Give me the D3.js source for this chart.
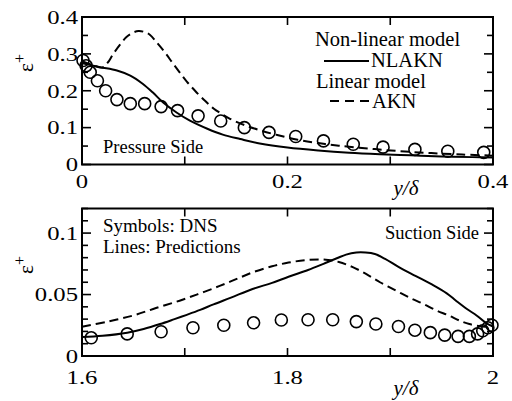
<!DOCTYPE html>
<html>
<head>
<meta charset="utf-8">
<script src="https://cdn.jsdelivr.net/npm/d3@7"></script>
<style>
  html, body { margin: 0; padding: 0; background: #fff; }
  svg text { font-family: "Liberation Serif", "Times New Roman", Times, "DejaVu Serif", serif; }
</style>
</head>
<body>
<div class="chart-container"></div>
<script>
// Pressure side (top panel)
const dnsTop = [[0.001,0.282],[0.004,0.268],[0.008,0.25],[0.015,0.227],[0.023,0.2],[0.034,0.176],[0.047,0.165],[0.061,0.165],[0.077,0.157],[0.093,0.146],[0.113,0.132],[0.135,0.118],[0.158,0.1],[0.182,0.087],[0.208,0.076],[0.235,0.064],[0.264,0.055],[0.293,0.047],[0.324,0.041],[0.356,0.036],[0.391,0.033]];
const nlaknTop = [[0,0.276],[0.003,0.273],[0.0175,0.264],[0.034,0.255],[0.047,0.241],[0.059,0.219],[0.069,0.195],[0.079,0.168],[0.092,0.141],[0.105,0.119],[0.122,0.097],[0.137,0.081],[0.154,0.069],[0.173,0.057],[0.2,0.046],[0.23,0.038],[0.26,0.032],[0.29,0.028],[0.32,0.025],[0.35,0.022],[0.38,0.02],[0.4,0.019]];
const aknTop = [[0,0.28],[0.01,0.27],[0.02,0.263],[0.025,0.276],[0.03,0.298],[0.037,0.325],[0.043,0.345],[0.05,0.358],[0.055,0.362],[0.06,0.36],[0.066,0.352],[0.073,0.33],[0.081,0.303],[0.088,0.276],[0.095,0.25],[0.102,0.225],[0.11,0.2],[0.12,0.172],[0.128,0.152],[0.136,0.137],[0.144,0.124],[0.158,0.107],[0.173,0.093],[0.19,0.08],[0.21,0.067],[0.23,0.058],[0.25,0.051],[0.28,0.043],[0.31,0.036],[0.34,0.031],[0.37,0.027],[0.4,0.024]];

// Suction side (bottom panel)
const dnsBot = [[1.609,0.0148],[1.644,0.018],[1.677,0.0197],[1.708,0.023],[1.738,0.025],[1.767,0.027],[1.794,0.0293],[1.82,0.0295],[1.844,0.0295],[1.867,0.028],[1.886,0.026],[1.908,0.024],[1.924,0.021],[1.939,0.019],[1.953,0.017],[1.966,0.016],[1.977,0.016],[1.985,0.018],[1.99,0.0205],[1.995,0.023],[1.999,0.025]];
const nlaknBot = [[1.6,0.0155],[1.62,0.0165],[1.644,0.019],[1.66,0.022],[1.676,0.026],[1.69,0.03],[1.702,0.0335],[1.715,0.0375],[1.728,0.042],[1.745,0.0475],[1.766,0.0545],[1.785,0.0595],[1.801,0.0645],[1.82,0.07],[1.835,0.075],[1.848,0.0795],[1.857,0.0825],[1.867,0.0842],[1.876,0.0842],[1.885,0.083],[1.895,0.079],[1.908,0.0725],[1.925,0.065],[1.941,0.058],[1.955,0.051],[1.964,0.045],[1.975,0.038],[1.984,0.033],[1.993,0.027],[2.0,0.024]];
const aknBot = [[1.6,0.0238],[1.625,0.028],[1.65,0.033],[1.672,0.039],[1.695,0.045],[1.715,0.051],[1.734,0.057],[1.75,0.0625],[1.766,0.068],[1.785,0.073],[1.801,0.076],[1.818,0.078],[1.835,0.0785],[1.85,0.0765],[1.863,0.0725],[1.876,0.067],[1.89,0.06],[1.906,0.053],[1.92,0.047],[1.932,0.0425],[1.945,0.037],[1.957,0.033],[1.967,0.029],[1.977,0.026],[1.993,0.0238],[2.0,0.025]];

const topXTicks = [0, 0.2, 0.4];
const topXTickLabels = ["0", "0.2", "0.4"];
const topYTicks = [0, 0.1, 0.2, 0.3, 0.4];
const topYTickLabels = ["0", "0.1", "0.2", "0.3", "0.4"];
const botXTicks = [1.6, 1.8, 2.0];
const botXTickLabels = ["1.6", "1.8", "2"];
const botYTicks = [0, 0.05, 0.1];
const botYTickLabels = ["0", "0.05", "0.1"];

const serif = '"Liberation Serif", "Times New Roman", Times, "DejaVu Serif", serif';

function panel(svg, cfg) {
    const x = d3.scaleLinear().domain(cfg.xDomain).range([82, 493]);
    const y = d3.scaleLinear().domain(cfg.yDomain).range(cfg.yRange);
    const g = svg.append("g").attr("font-family", serif);

    // inward ticks on all four sides
    const xt = d3.range(cfg.xDomain[0], cfg.xDomain[1] + 1e-9, cfg.xStep);
    const yt = d3.range(cfg.yDomain[0], cfg.yDomain[1] + 1e-9, cfg.yStep);
    const tk = g.append("g").attr("stroke", "#000").attr("stroke-width", 1.6);
    xt.forEach(v => {
        tk.append("line").attr("x1", x(v)).attr("x2", x(v)).attr("y1", y.range()[0]).attr("y2", y.range()[0] - 8);
        tk.append("line").attr("x1", x(v)).attr("x2", x(v)).attr("y1", y.range()[1]).attr("y2", y.range()[1] + 8);
    });
    yt.forEach(v => {
        const major = cfg.yMajor.some(m => Math.abs(m - v) < 1e-9);
        const len = major ? 9 : 6;
        tk.append("line").attr("x1", 82).attr("x2", 82 + len).attr("y1", y(v)).attr("y2", y(v));
        tk.append("line").attr("x1", 493).attr("x2", 493 - len).attr("y1", y(v)).attr("y2", y(v));
    });

    // frame
    g.append("rect")
        .attr("x", 82).attr("y", y.range()[1])
        .attr("width", 411).attr("height", y.range()[0] - y.range()[1])
        .attr("fill", "none").attr("stroke", "#000").attr("stroke-width", 2);

    // tick labels (the scanned digits are wide, so stretch them)
    cfg.yTicks.forEach((v, i) => {
        g.append("text")
            .attr("transform", `translate(78,${y(v)}) scale(1.3,1)`)
            .attr("dy", "0.36em")
            .attr("text-anchor", "end")
            .attr("font-size", 19)
            .text(cfg.yTickLabels[i]);
    });
    cfg.xTicks.forEach((v, i) => {
        g.append("text")
            .attr("transform", `translate(${x(v)},${y.range()[0] + cfg.xLabelOffset}) scale(1.3,1)`)
            .attr("text-anchor", "middle")
            .attr("font-size", 19)
            .text(cfg.xTickLabels[i]);
    });

    // axis titles
    const yl = g.append("text")
        .attr("transform", `translate(33,${cfg.yTitleY}) rotate(-90)`)
        .attr("text-anchor", "middle")
        .attr("font-size", 21);
    yl.append("tspan").text("ε");
    yl.append("tspan").attr("dy", -8).attr("font-size", 16).text("+");

    g.append("text")
        .attr("x", 406).attr("y", y.range()[0] + cfg.xTitleOffset)
        .attr("text-anchor", "middle")
        .attr("font-size", 21)
        .attr("font-style", "italic")
        .text("y/δ");

    // lines
    const line = d3.line().x(d => x(d[0])).y(d => y(d[1])).curve(d3.curveCatmullRom);
    g.append("path").datum(cfg.akn)
        .attr("d", line).attr("fill", "none").attr("stroke", "#000")
        .attr("stroke-width", 2).attr("stroke-dasharray", "9,5");
    g.append("path").datum(cfg.nlakn)
        .attr("d", line).attr("fill", "none").attr("stroke", "#000")
        .attr("stroke-width", 2);

    g.append("g").selectAll("circle")
        .data(cfg.dns)
        .join("circle")
        .attr("cx", d => x(d[0]))
        .attr("cy", d => y(d[1]))
        .attr("r", 6)
        .attr("fill", "none")
        .attr("stroke", "#000")
        .attr("stroke-width", 1.6);

    return g;
}

function draw() {
    const width = 512, height = 401;
    const svg = d3.select(".chart-container").append("svg")
        .attr("width", width)
        .attr("height", height)
        .attr("viewBox", [0, 0, width, height])
        .attr("font-family", serif);

    const top = panel(svg, {
        xDomain: [0, 0.4], yDomain: [0, 0.4], yRange: [164.5, 17],
        xStep: 0.1, yStep: 0.05, yMajor: topYTicks,
        xTicks: topXTicks, xTickLabels: topXTickLabels,
        yTicks: topYTicks, yTickLabels: topYTickLabels,
        xLabelOffset: 23, xTitleOffset: 30, yTitleY: 63,
        dns: dnsTop, nlakn: nlaknTop, akn: aknTop
    });

    top.append("text").attr("x", 103).attr("y", 153).attr("font-size", 18.5).text("Pressure Side");

    // legend
    top.append("text").attr("x", 315).attr("y", 46).attr("font-size", 20.5).text("Non-linear model");
    top.append("line").attr("x1", 324).attr("x2", 369).attr("y1", 61).attr("y2", 61)
        .attr("stroke", "#000").attr("stroke-width", 2);
    top.append("text").attr("x", 371).attr("y", 67).attr("font-size", 20.5).text("NLAKN");
    top.append("text").attr("x", 316).attr("y", 88).attr("font-size", 20.5).text("Linear model");
    top.append("line").attr("x1", 330).attr("x2", 369).attr("y1", 101).attr("y2", 101)
        .attr("stroke", "#000").attr("stroke-width", 2).attr("stroke-dasharray", "9,6");
    top.append("text").attr("x", 372).attr("y", 108).attr("font-size", 20.5).text("AKN");

    const bot = panel(svg, {
        xDomain: [1.6, 2.0], yDomain: [0, 0.12], yRange: [356, 208.5],
        xStep: 0.1, yStep: 0.01, yMajor: botYTicks,
        xTicks: botXTicks, xTickLabels: botXTickLabels,
        yTicks: botYTicks, yTickLabels: botYTickLabels,
        xLabelOffset: 28, xTitleOffset: 39, yTitleY: 265,
        dns: dnsBot, nlakn: nlaknBot, akn: aknBot
    });

    bot.append("text").attr("x", 103).attr("y", 232).attr("font-size", 19).text("Symbols: DNS");
    bot.append("text").attr("x", 103).attr("y", 253).attr("font-size", 19).text("Lines: Predictions");
    bot.append("text").attr("x", 479).attr("y", 239).attr("text-anchor", "end").attr("font-size", 18.5).text("Suction Side");
}

draw();
</script>
</body>
</html>
